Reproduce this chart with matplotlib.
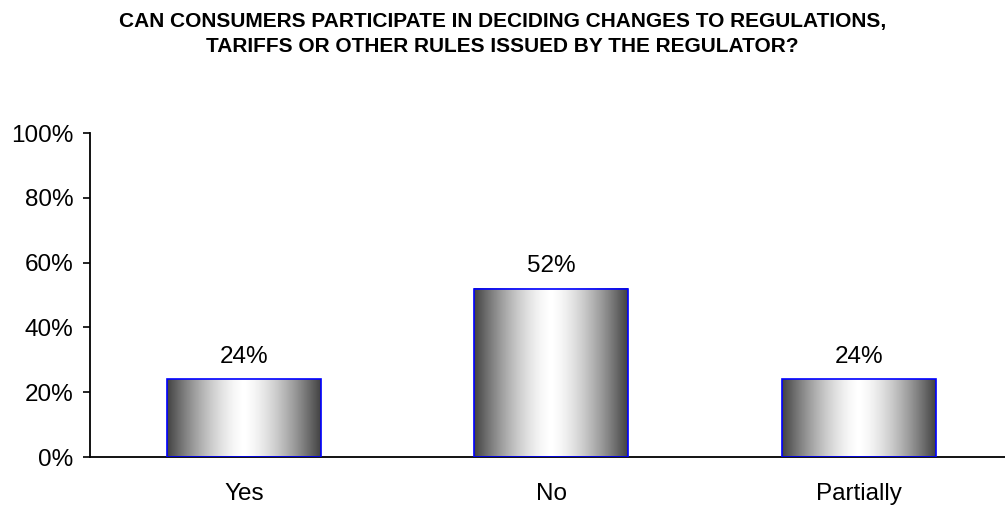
import numpy as np
import matplotlib
matplotlib.use("Agg")
import matplotlib.pyplot as plt
from matplotlib.ticker import FuncFormatter

plt.rcParams["font.family"] = ["Liberation Sans", "DejaVu Sans"]

# ── Survey data ───────────────────────────────────────────────────────────────
categories = ["Yes", "No", "Partially"]
shares     = [24, 52, 24]
title      = ("CAN CONSUMERS PARTICIPATE IN DECIDING CHANGES TO REGULATIONS,\n"
              "TARIFFS OR OTHER RULES ISSUED BY THE REGULATOR?")

BAR_W = 0.5
FS    = 17.5

fig = plt.figure(figsize=(10.05, 5.07), dpi=100)
ax = fig.add_axes([0.0896, 0.0986, 0.9104, 0.639])

# cylinder-style grey shading across each bar
t = np.linspace(-1, 1, 256)
shade = 0.26 + 0.74 * (1 - np.abs(t) ** 1.5)
grad = np.tile(shade, (2, 1))

x = np.arange(len(categories))
for xi, v in zip(x, shares):
    ax.imshow(grad, cmap="gray", vmin=0, vmax=1, aspect="auto",
              extent=(xi - BAR_W / 2, xi + BAR_W / 2, 0, v),
              interpolation="bilinear", zorder=2)
bars = ax.bar(x, shares, width=BAR_W, facecolor="none",
              edgecolor="#0000ff", linewidth=1.2, zorder=3)

for xi, v in zip(x, shares):
    ax.annotate(f"{v}%", (xi, v), xytext=(0, 8), textcoords="offset points",
                ha="center", va="bottom", fontsize=FS)

ax.set_xlim(-0.5, 2.476)
ax.set_ylim(0, 100)
ax.set_yticks(range(0, 101, 20))
ax.yaxis.set_major_formatter(FuncFormatter(lambda v, _: f"{v:.0f}%"))
ax.set_xticks(x)
ax.set_xticklabels(categories)

ax.tick_params(axis="y", length=5, width=1.2, labelsize=FS, pad=7)
ax.tick_params(axis="x", length=0, labelsize=FS, pad=19)
for side in ("top", "right"):
    ax.spines[side].set_visible(False)
for side in ("left", "bottom"):
    ax.spines[side].set_linewidth(1.3)

fig.text(0.5, 0.977, title, ha="center", va="top", fontsize=15,
         fontweight="bold", linespacing=1.45)

plt.savefig("out.png", dpi=100)
plt.close()
